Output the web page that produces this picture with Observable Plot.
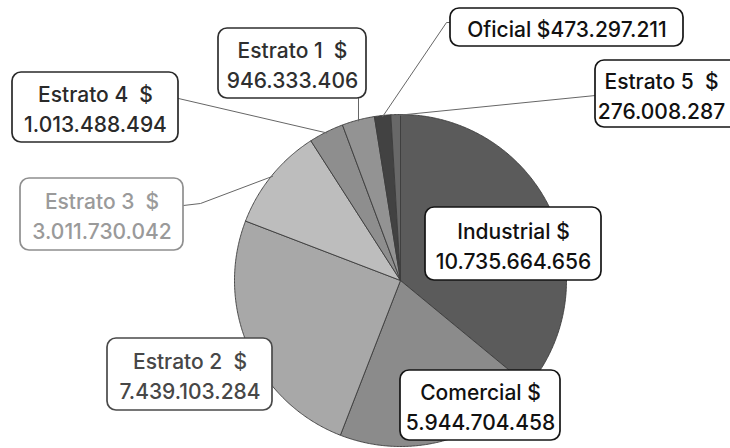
<!DOCTYPE html>
<html><head><meta charset="utf-8">
<script src="https://cdn.jsdelivr.net/npm/d3@7"></script>
<script src="https://cdn.jsdelivr.net/npm/@observablehq/plot@0.6"></script>
<style>
body{margin:0;background:#fff}
#chart{width:730px;height:448px;overflow:hidden}
</style>
</head><body><div id="chart"></div>
<script>
// ---- data ----
const categories = ["Industrial", "Comercial", "Estrato 2", "Estrato 3", "Estrato 4", "Estrato 1", "Oficial", "Estrato 5"];
const values = [10735664656, 5944704458, 7439103284, 3011730042, 1013488494, 946333406, 473297211, 276008287];
const valueLabels = ["10.735.664.656", "5.944.704.458", "7.439.103.284", "3.011.730.042", "1.013.488.494", "946.333.406", "473.297.211", "276.008.287"];

// ---- styles / layout ----
const sliceColors = ["#5b5b5b", "#8b8b8b", "#a8a8a8", "#bdbdbd", "#8e8e8e", "#939393", "#424242", "#686868"];
const textColors = ["#111", "#111", "#474747", "#9a9a9a", "#2a2a2a", "#2f2f2f", "#111", "#111"];
const boxStrokes = ["#151515", "#151515", "#4a4a4a", "#8f8f8f", "#2a2a2a", "#2f2f2f", "#151515", "#151515"];
// box [x1, y1, x2, y2] in pixels
const boxes = [[425,207,601,280],[400,370,560,440],[107,338,272,410],[20,178,183,250],[12,72,178,142],[218,28,366,98],[450,8,683,46],[595,60,740,127]];
const textCenterX = [null, null, null, null, null, null, null, 661];
const wideGap = [false, false, true, true, true, true, false, true];
const singleLine = [false,false,false,false,false,false,true,false];
// leader anchor at the box side (null = no leader)
const anchors = [null, null, null, [[183,205],[200,203]], [[178,98]], [[358,98]], [[449,22],[446,22]], [[595,95]]];
const cx = 400, cy = 280, R = 166;

const nb = "\u00a0";

// ---- pie geometry ----
const arcs = d3.pie().sort(null).startAngle(0).endAngle(2 * Math.PI)(values);
const rim = (a, r = R) => ({x: cx + r * Math.sin(a), y: cy - r * Math.cos(a)});
const slicePts = [];
arcs.forEach((a, i) => {
  const cat = categories[i];
  slicePts.push({cat, color: sliceColors[i], x: cx, y: cy});
  const n = Math.max(2, Math.ceil((a.endAngle - a.startAngle) / (Math.PI / 360)));
  for (let k = 0; k <= n; k++) {
    const t = a.startAngle + (a.endAngle - a.startAngle) * k / n;
    slicePts.push({cat, color: sliceColors[i], ...rim(t)});
  }
  slicePts.push({cat, color: sliceColors[i], x: cx, y: cy});
});

const leaderPts = [];
arcs.forEach((a, i) => {
  if (!anchors[i]) return;
  const cat = categories[i];
  anchors[i].forEach(p => leaderPts.push({cat, x: p[0], y: p[1]}));
  const m = (a.startAngle + a.endAngle) / 2;
  leaderPts.push({cat, ...rim(m, R - 1)});
});

const labelData = categories.map((c, i) => ({
  cat: c,
  x1: boxes[i][0], y1: boxes[i][1], x2: boxes[i][2], y2: boxes[i][3],
  tx: textCenterX[i] ?? (boxes[i][0] + boxes[i][2]) / 2,
  text: singleLine[i] ? `${c} $${valueLabels[i]}`
       : `${c.replace(" ", nb)}${wideGap[i] ? nb + nb : " "}$\n${valueLabels[i]}`,
  tc: textColors[i], bc: boxStrokes[i]
}));

const chart = Plot.plot({
  width: 730, height: 448, margin: 0,
  x: {type: "identity", axis: null},
  y: {type: "identity", axis: null},
  color: {type: "identity"},
  style: {background: "#fff", overflow: "visible"},
  marks: [
    Plot.line(slicePts, {x: "x", y: "y", z: "cat", fill: "color", stroke: "#3c3c3c", strokeWidth: 0.9, strokeLinejoin: "round"}),
    Plot.line(leaderPts, {x: "x", y: "y", z: "cat", stroke: "#666", strokeWidth: 1}),
    Plot.rect(labelData, {x1: "x1", y1: "y1", x2: "x2", y2: "y2", rx: 9, fill: "white", stroke: "bc", strokeWidth: 1.7}),
    Plot.text(labelData, {x: "tx", y: d => (d.y1 + d.y2) / 2, text: "text", fill: "tc",
      fontSize: 21, lineHeight: 1.45, fontFamily: "Inter, 'Open Sans', sans-serif", fontWeight: 500})
  ]
});
document.getElementById("chart").append(chart);
</script>
</body></html>
